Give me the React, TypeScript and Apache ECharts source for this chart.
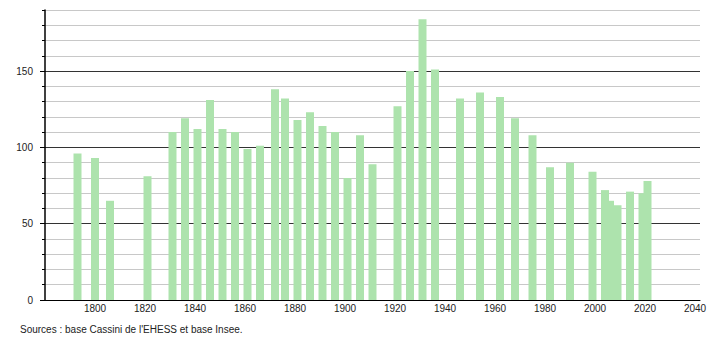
import React, { useEffect, useRef } from "react";
import * as echarts from "echarts";

const years = [
  1793, 1800, 1806, 1821, 1831, 1836, 1841, 1846, 1851, 1856, 1861, 1866, 1872,
  1876, 1881, 1886, 1891, 1896, 1901, 1906, 1911, 1921, 1926, 1931, 1936, 1946,
  1954, 1962, 1968, 1975, 1982, 1990, 1999, 2004, 2006, 2009, 2014, 2019, 2021,
];
const population = [
  96, 93, 65, 81, 110, 119, 112, 131, 112, 110, 99, 101, 138, 132, 118, 123, 114,
  110, 80, 108, 89, 127, 150, 184, 151, 132, 136, 133, 119, 108, 87, 90, 84, 72,
  65, 62, 71, 70, 78,
];
const majorYTicks = [0, 50, 100, 150];
const xTickLabels = [1800, 1820, 1840, 1860, 1880, 1900, 1920, 1940, 1960, 1980, 2000, 2020, 2040];
const sourceText = "Sources : base Cassini de l'EHESS et base Insee.";

export default function App() {
  const ref = useRef<HTMLDivElement>(null);
  useEffect(() => {
    document.body.style.margin = "0";
    if (!ref.current) return;
    const chart = echarts.init(ref.current, null, { renderer: "svg" });
    const font = "Liberation Sans, Arial, sans-serif";
    chart.setOption({
      animation: false,
      grid: { left: 45, right: 10, top: 10, bottom: 40, containLabel: false },
      xAxis: {
        type: "value",
        min: 1780,
        max: 2042,
        interval: 20,
        axisLine: { show: true, lineStyle: { color: "#000", width: 1 } },
        axisTick: { show: false },
        splitLine: { show: false },
        axisLabel: {
          show: true,
          margin: 3,
          fontSize: 10,
          fontFamily: font,
          color: "#222",
          customValues: xTickLabels,
          formatter: (v: number) => String(v),
        },
      },
      yAxis: [
        {
          type: "value",
          min: 0,
          max: 190,
          interval: 10,
          axisLine: { show: true, lineStyle: { color: "#000", width: 1.5 } },
          axisTick: { show: true, length: 3, lineStyle: { color: "#000" } },
          axisLabel: {
            margin: 12,
            fontSize: 10,
            fontFamily: font,
            color: "#222",
            formatter: (v: number) => (v % 50 === 0 ? String(v) : ""),
          },
          splitLine: {
            show: true,
            lineStyle: {
              color: ["#333", "#c8c8c8", "#c8c8c8", "#c8c8c8", "#c8c8c8"],
              width: 1,
            },
          },
        },
        {
          type: "value",
          min: 0,
          max: 190,
          position: "left",
          axisLine: { show: false },
          axisTick: {
            show: true,
            length: 5,
            customValues: majorYTicks,
            lineStyle: { color: "#000" },
          },
          axisLabel: { show: false },
          splitLine: { show: false },
        },
      ],
      series: [
        {
          type: "bar",
          yAxisIndex: 0,
          barWidth: 8,
          data: years.map((y, i) => [y, population[i]]),
          itemStyle: { color: "#ade3ad" },
        },
      ],
      graphic: [
        {
          type: "text",
          left: 20,
          top: 324,
          style: {
            text: sourceText,
            fontSize: 10,
            fontFamily: font,
            fill: "#222",
          },
        },
      ],
    });
    return () => chart.dispose();
  }, []);
  return <div ref={ref} style={{ width: 710, height: 340 }} />;
}
